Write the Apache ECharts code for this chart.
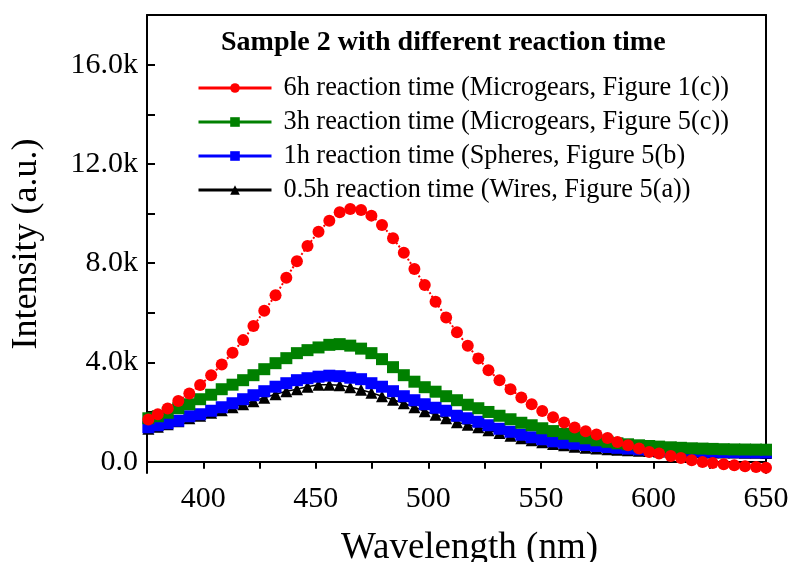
<!DOCTYPE html>
<html>
<head>
<meta charset="utf-8">
<script src="https://cdn.jsdelivr.net/npm/echarts@6/dist/echarts.min.js"></script>
<style>
  html, body { margin: 0; padding: 0; background: #fff; }
  #chart { width: 795px; height: 562px; }
</style>
</head>
<body>
<div id="chart"></div>
<script>
// wavelength of each measured point (nm)
const wavelengths = [375.6, 379.8, 384.2, 388.9, 393.8, 398.6, 403.5, 408.2, 413.0, 417.7,
  422.3, 427.1, 432.1, 436.9, 441.6, 446.3, 451.2, 456.0, 460.6, 465.3,
  470.1, 474.7, 479.4, 484.3, 489.1, 493.8, 498.4, 503.2, 507.9, 512.7,
  517.5, 522.2, 526.7, 531.6, 536.5, 541.3, 545.9, 550.6, 555.4, 560.3,
  565.0, 569.9, 574.7, 579.6, 584.0, 588.7, 593.6, 598.1, 602.5, 607.7,
  612.2, 617.0, 621.8, 626.3, 631.2, 635.9, 640.7, 645.6, 650.0];

const red6h = [1703, 1917, 2147, 2453, 2752, 3099, 3490, 3922, 4390, 4903,
  5467, 6085, 6706, 7416, 8078, 8695, 9273, 9716, 10055, 10188,
  10148, 9918, 9543, 9006, 8425, 7767, 7122, 6448, 5818, 5217,
  4673, 4164, 3692, 3289, 2925, 2590, 2320, 2050, 1796, 1582,
  1380, 1231, 1098, 961, 799, 666, 533, 395, 331, 234,
  153, 61, -8, -48, -101, -141, -182, -210, -234];

const green3h = [1755, 1836, 1977, 2159, 2320, 2522, 2703, 2925, 3107, 3289,
  3490, 3732, 3974, 4176, 4378, 4499, 4608, 4713, 4741, 4681,
  4560, 4378, 4136, 3813, 3490, 3228, 3006, 2825, 2643, 2482,
  2300, 2159, 2009, 1856, 1715, 1574, 1473, 1352, 1239, 1130,
  1029, 948, 868, 807, 746, 706, 666, 638, 613, 585,
  565, 545, 533, 521, 508, 500, 496, 492, 488];

const blue1h = [1392, 1473, 1553, 1654, 1836, 1917, 2058, 2199, 2360, 2522,
  2683, 2845, 3026, 3167, 3289, 3369, 3430, 3470, 3450, 3389,
  3329, 3167, 3026, 2845, 2643, 2482, 2320, 2179, 2058, 1856,
  1755, 1614, 1473, 1332, 1211, 1090, 989, 908, 827, 767,
  726, 678, 638, 597, 565, 533, 504, 484, 464, 448,
  436, 424, 412, 404, 395, 387, 383, 379, 375];

const black05h = [1332, 1412, 1513, 1634, 1755, 1856, 1977, 2078, 2199, 2320,
  2441, 2582, 2724, 2845, 2925, 3026, 3107, 3107, 3087, 3006,
  2905, 2784, 2643, 2502, 2360, 2199, 2038, 1897, 1755, 1594,
  1493, 1392, 1271, 1158, 1049, 948, 868, 787, 714, 666,
  605, 565, 533, 504, 484, 464, 448, 432, 420, 408,
  399, 391, 383, 379, 375, 371, 367, 363, 359];

const seriesNames = [
  '6h reaction time (Microgears, Figure 1(c))',
  '3h reaction time (Microgears, Figure 5(c))',
  '1h reaction time (Spheres, Figure 5(b)',
  '0.5h reaction time (Wires, Figure 5(a))'
];
const yTicks = [0, 4000, 8000, 12000, 16000];
const yMinorTicks = [0, 2000, 4000, 6000, 8000, 10000, 12000, 14000, 16000];

const pairs = ys => wavelengths.map((w, i) => [w, ys[i]]);
const font = 'Liberation Serif';

const chart = echarts.init(document.getElementById('chart'));
chart.setOption({
  animation: false,
  backgroundColor: '#fff',
  title: {
    text: 'Sample 2 with different reaction time',
    left: 221,
    top: 29,
    padding: 0,
    textStyle: { fontFamily: font, fontWeight: 'bold', fontSize: 28, color: '#000' }
  },
  legend: {
    orient: 'vertical',
    left: 197,
    top: 75,
    padding: 0,
    itemWidth: 73,
    itemHeight: 12,
    itemGap: 8,
    data: seriesNames,
    lineStyle: { type: 'solid', width: 3 },
    textStyle: { fontFamily: font, fontSize: 26.3, color: '#000', lineHeight: 25, padding: [0, 0, 0, 7] }
  },
  grid: { left: 147, right: 29, top: 15, bottom: 89, outerBoundsMode: 'none' },
  xAxis: [{
    type: 'value',
    min: 375,
    max: 650,
    interval: 25,
    name: 'Wavelength (nm)',
    nameLocation: 'middle',
    nameGap: 57,
    nameTextStyle: { fontFamily: font, fontSize: 37, color: '#000', padding: [0, 0, 0, 26] },
    axisLine: { lineStyle: { color: '#000', width: 2 } },
    axisTick: { inside: false, length: 7, lineStyle: { color: '#000', width: 2 } },
    axisLabel: {
      margin: 11,
      fontFamily: font, fontSize: 30, color: '#000',
      formatter: v => (v % 50 === 0 ? String(v) : '')
    },
    splitLine: { show: false }
  }, {
    type: 'value',
    position: 'top',
    min: 375,
    max: 650,
    axisLine: { onZero: false, lineStyle: { color: '#000', width: 2 } },
    axisTick: { show: false },
    axisLabel: { show: false },
    splitLine: { show: false }
  }],
  yAxis: [{
    type: 'value',
    min: -450,
    max: 18000,
    name: 'Intensity (a.u.)',
    nameLocation: 'middle',
    nameGap: 102,
    nameTextStyle: { fontFamily: font, fontSize: 36, color: '#000' },
    axisLine: { show: true, onZero: false, lineStyle: { color: '#000', width: 2 } },
    axisTick: {
      show: true, inside: true, length: 8,
      customValues: yMinorTicks,
      lineStyle: { color: '#000', width: 2 }
    },
    axisLabel: {
      margin: 9,
      customValues: yTicks,
      fontFamily: font, fontSize: 30, color: '#000',
      formatter: v => (v === 0 ? '0.0' : (v / 1000).toFixed(1) + 'k')
    },
    splitLine: { show: false }
  }, {
    type: 'value',
    position: 'right',
    min: -450,
    max: 18000,
    axisLine: { show: true, onZero: false, lineStyle: { color: '#000', width: 2 } },
    axisTick: { show: false },
    axisLabel: { show: false },
    splitLine: { show: false }
  }],
  series: [
    {
      name: seriesNames[3], type: 'line', data: pairs(black05h),
      symbol: 'triangle', symbolSize: 12, color: '#000000',
      lineStyle: { width: 1.5, color: '#000000' }, itemStyle: { color: '#000000' }
    },
    {
      name: seriesNames[2], type: 'line', data: pairs(blue1h),
      symbol: 'rect', symbolSize: 12, color: '#0000FF',
      lineStyle: { width: 1.5, color: '#0000FF' }, itemStyle: { color: '#0000FF' }
    },
    {
      name: seriesNames[1], type: 'line', data: pairs(green3h),
      symbol: 'rect', symbolSize: 12, color: '#008000',
      lineStyle: { width: 1.5, color: '#008000' }, itemStyle: { color: '#008000' }
    },
    {
      name: seriesNames[0], type: 'line', data: pairs(red6h),
      symbol: 'circle', symbolSize: 12, color: '#FF0000',
      lineStyle: { width: 2, type: 'dotted', color: '#FF0000' }, itemStyle: { color: '#FF0000' }
    }
  ]
});
</script>
</body>
</html>
